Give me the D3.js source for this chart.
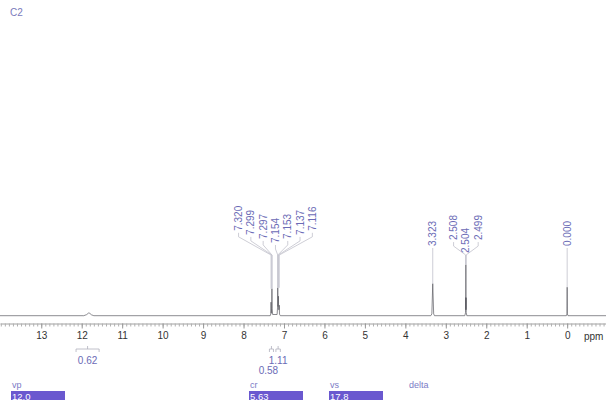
<!DOCTYPE html>
<html>
<head>
<meta charset="utf-8">
<script src="https://cdn.jsdelivr.net/npm/d3@7"></script>
<style>
  html, body { margin: 0; padding: 0; background: #fff; }
  svg { display: block; font-family: "Liberation Sans", Arial, sans-serif; }
</style>
</head>
<body>
<svg id="chart" width="606" height="400"></svg>
<script>
// ---------------- data ----------------
const title = "C2";
const majorTicks = [13, 12, 11, 10, 9, 8, 7, 6, 5, 4, 3, 2, 1, 0];
const axisUnit = "ppm";

// spectrum trace: [ppm, relative intensity]
const spectrum = [
  [14.02, 0], [11.95, 0], [11.88, 0.35], [11.83, 0.9], [11.80, 0.8], [11.76, 0.3], [11.70, 0],
  [7.34, 0], [7.326, 0.6], [7.320, 4.5], [7.314, 0.8], [7.303, 2.5], [7.298, 9.0], [7.293, 2.5], [7.28, 0.4],
  [7.17, 0.4], [7.158, 3.0], [7.154, 9.3], [7.150, 3.0], [7.141, 4.0], [7.137, 6.5], [7.132, 2.0],
  [7.121, 2.0], [7.116, 3.5], [7.111, 0.5], [7.09, 0],
  [3.37, 0], [3.345, 0.6], [3.323, 10.7], [3.300, 0.6], [3.28, 0],
  [2.53, 0], [2.512, 1.0], [2.508, 6.0], [2.506, 2.0], [2.504, 17.0], [2.502, 2.0], [2.499, 6.0], [2.495, 1.0], [2.48, 0],
  [0.02, 0], [0.005, 0.6], [0.0, 9.5], [-0.005, 0.6], [-0.02, 0], [-0.96, 0]
];

// peak picking labels
const peakPpm = [7.320, 7.299, 7.297, 7.154, 7.153, 7.137, 7.116, 3.323, 2.508, 2.504, 2.499, 0.000];
const peakText = ["7.320", "7.299", "7.297", "7.154", "7.153", "7.137", "7.116", "3.323", "2.508", "2.504", "2.499", "0.000"];
const peakTop = [9.0, 9.0, 9.0, 9.3, 9.3, 9.3, 9.3, 10.7, 17.0, 17.0, 17.0, 9.5];

// integrals
const integralFrom = [12.14, 7.36, 7.20];
const integralTo = [11.57, 7.26, 7.09];
const integralValue = ["0.62", "0.58", "1.11"];

// parameter boxes
const paramNames = ["vp", "cr", "vs", "delta"];
const paramValues = ["12.0", "5.63", "17.8", ""];

// ---------------- drawing ----------------
const W = 606, H = 400;
const svg = d3.select("#chart");
const labelColor = "#6b6bb6";
const leaderColor = "#c2c2cc";

const x = d3.scaleLinear().domain([14.02, -0.96]).range([0, W]);
const y = d3.scaleLinear().domain([0, 100]).range([315.7, 15.7]);

// title
svg.append("text").attr("x", 10).attr("y", 16)
  .attr("font-size", 10).attr("fill", "#7a7abb").text(title);

// axis
const axisY = 323.5;
const minorTicks = d3.range(-9, 141).map(i => i / 10).filter(v => v <= 14.02 && v >= -0.96);
const gMinor = svg.append("g").attr("transform", `translate(0,${axisY})`)
  .call(d3.axisBottom(x).tickValues(minorTicks).tickSize(3).tickSizeOuter(0).tickFormat(""));
gMinor.select(".domain").attr("stroke", "#a0a0a0");
gMinor.selectAll(".tick line").attr("stroke", "#b0b0b0");

const gMajor = svg.append("g").attr("transform", `translate(0,${axisY})`)
  .call(d3.axisBottom(x).tickValues(majorTicks).tickSize(5).tickSizeOuter(0).tickFormat(d3.format("d")));
gMajor.select(".domain").remove();
gMajor.selectAll(".tick line").attr("stroke", "#999");
gMajor.selectAll(".tick text").attr("font-size", 10).attr("fill", "#333")
  .attr("font-family", "Liberation Sans, Arial, sans-serif");

svg.append("text").attr("x", 584).attr("y", axisY + 16)
  .attr("font-size", 10).attr("fill", "#333").text(axisUnit);

// spectrum
const line = d3.line().x(d => x(d[0])).y(d => y(d[1]));
svg.append("path").datum(spectrum)
  .attr("d", line).attr("fill", "none")
  .attr("stroke", "#5a5a62").attr("stroke-width", 0.7);

// peak labels: cluster and spread
const peaks = peakPpm.map((p, i) => ({ px: x(p), text: peakText[i], top: y(peakTop[i]) }));
peaks.sort((a, b) => a.px - b.px);
const spacing = 12.3;
const clusters = [];
peaks.forEach(p => {
  const last = clusters[clusters.length - 1];
  if (last && p.px - last[last.length - 1].px < spacing) last.push(p);
  else clusters.push([p]);
});
clusters.forEach(c => {
  const mean = d3.mean(c, d => d.px);
  const n = c.length;
  c.forEach((p, i) => {
    const dx = (i - (n - 1) / 2) * spacing;
    p.lx = mean + dx;
    if (n === 1) p.yb = 246;
    else if (n <= 3) p.yb = 253 - Math.abs(dx) * 1.05;
    else p.yb = 243 - Math.abs(dx) * 0.33;
  });
});
const elbowY = 255;
peaks.forEach(p => {
  const pts = [[p.lx, p.yb + 2], [p.lx, p.yb + 6], [p.px, Math.max(elbowY, p.yb + 6)], [p.px, p.top]];
  svg.append("path").attr("d", d3.line()(pts))
    .attr("fill", "none").attr("stroke", leaderColor).attr("stroke-width", 0.8);
  svg.append("text")
    .attr("transform", `translate(${p.lx + 3.6},${p.yb}) rotate(-90)`)
    .attr("font-size", 10).attr("fill", labelColor).text(p.text);
});

// integrals
const bracketY = 349;
const placed = [];
const order = d3.range(integralValue.length).sort((a, b) => x(integralFrom[b]) - x(integralFrom[a]));
order.forEach(i => {
  const x0 = x(integralFrom[i]), x1 = x(integralTo[i]);
  const cx = (x0 + x1) / 2;
  const g = svg.append("g").attr("stroke", "#b0b0bc").attr("stroke-width", 0.8).attr("fill", "none");
  g.append("path").attr("d", `M${x0},${bracketY + 3}V${bracketY}H${x1}V${bracketY + 3}`);
  g.append("path").attr("d", `M${cx},${bracketY}V${bracketY - 3}`);
  const w = 19;
  let row = 0;
  while (placed.some(q => q.row === row && Math.abs(q.cx - cx) < w)) row++;
  let lx = cx;
  if (row > 0) lx = cx - 3;
  placed.push({ cx: lx, row });
  svg.append("text").attr("x", lx).attr("y", 364 + row * 10)
    .attr("text-anchor", "middle").attr("font-size", 10).attr("fill", labelColor)
    .text(integralValue[i]);
});

// parameter boxes
const paramX = [11, 249, 329, 408];
paramNames.forEach((name, i) => {
  svg.append("text").attr("x", paramX[i] + 1).attr("y", 388)
    .attr("font-size", 9).attr("fill", "#7b7bc6").text(name);
  if (paramValues[i] !== "") {
    svg.append("rect").attr("x", paramX[i]).attr("y", 391).attr("width", 54).attr("height", 10)
      .attr("fill", "#6a58cf");
    svg.append("text").attr("x", paramX[i] + 1).attr("y", 399.5)
      .attr("font-size", 9.5).attr("fill", "#fff").text(paramValues[i]);
  }
});
</script>
</body>
</html>
